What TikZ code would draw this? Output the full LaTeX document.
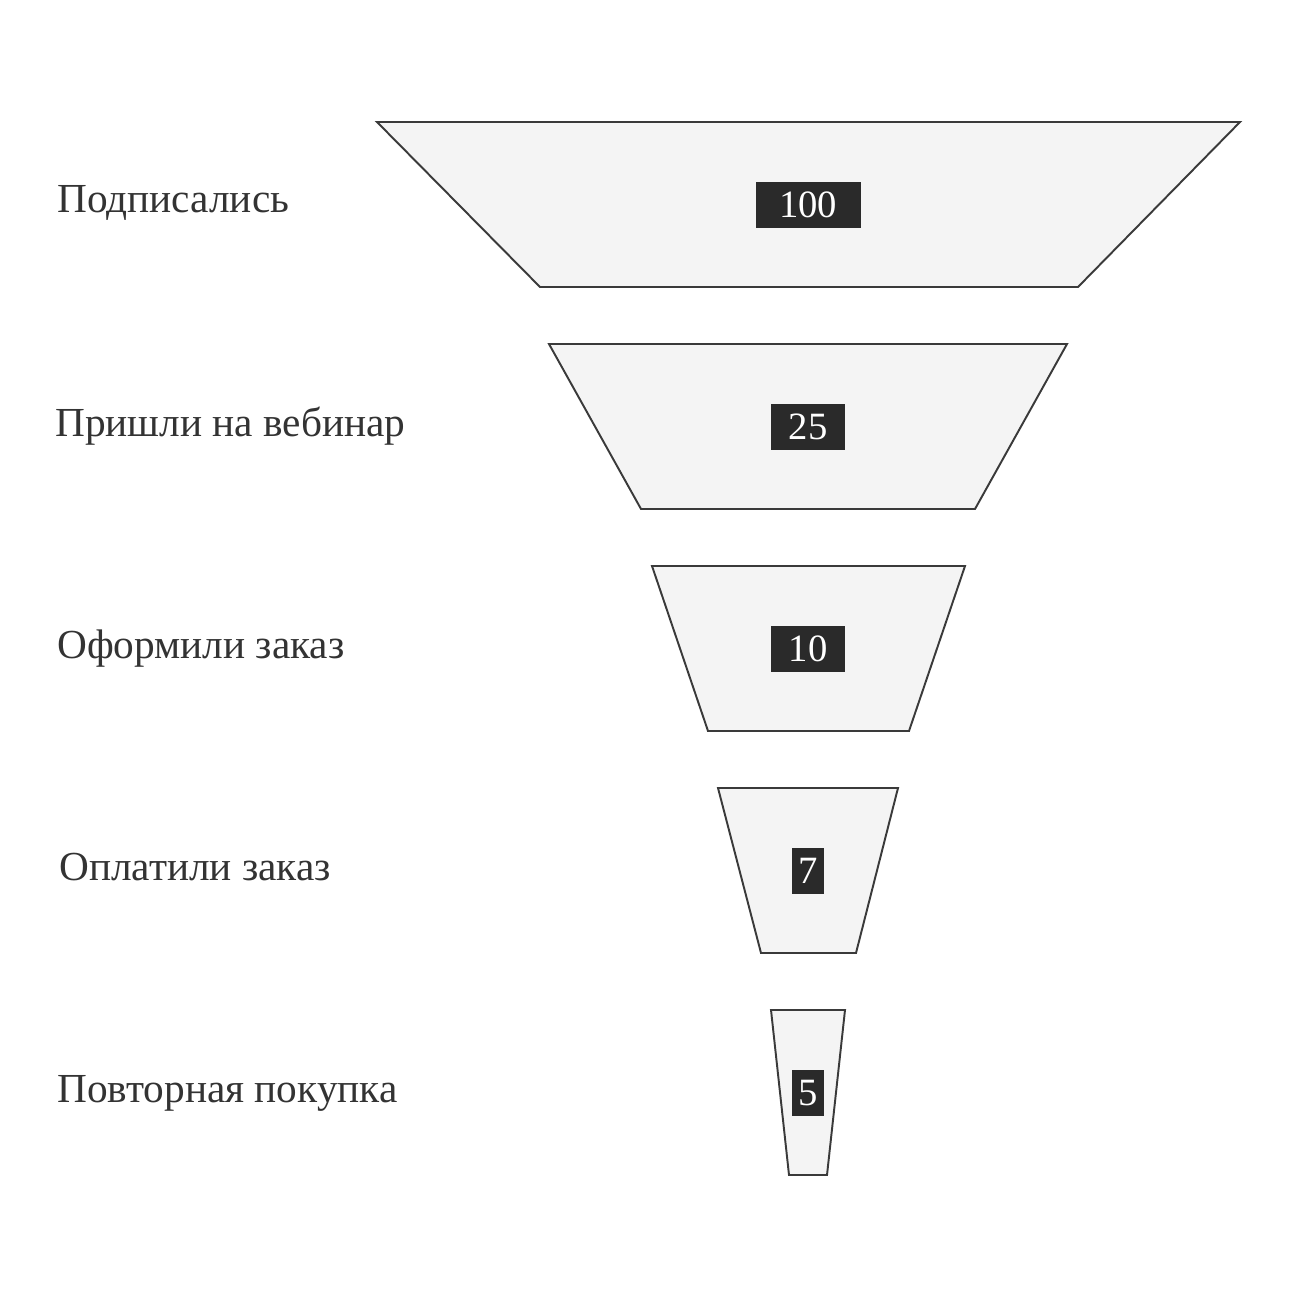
\documentclass[tikz,border=0pt]{standalone}
\usepackage{fontspec}
\setmainfont{Liberation Serif}
\definecolor{funnelline}{HTML}{3A3A3A}
\definecolor{funnelfill}{HTML}{F4F4F4}
\definecolor{countbg}{HTML}{2A2A2A}
\definecolor{labeltext}{HTML}{333333}
\begin{document}
\begin{tikzpicture}[x=0.02cm,y=-0.02cm]
    \tikzstyle{stage} = [draw=funnelline,fill=funnelfill,line width=1.1pt,line join=miter]
    \tikzstyle{count} = [fill=countbg,text=white,minimum height=0.92cm,inner sep=0pt,font=\fontsize{22}{22}\selectfont]
    \tikzstyle{caption} = [anchor=base west,text=labeltext,inner sep=0pt,font=\fontsize{23.5}{23.5}\selectfont]
    \useasboundingbox (0,0) rectangle (1297,1297);
    % funnel stages
    \draw [stage] (377,122) -- (1240,122) -- (1078,287) -- (540,287) -- cycle;
    \draw [stage] (549,344) -- (1067,344) -- (975,509) -- (641,509) -- cycle;
    \draw [stage] (652,566) -- (965,566) -- (909,731) -- (708,731) -- cycle;
    \draw [stage] (718,788) -- (898,788) -- (856,953) -- (761,953) -- cycle;
    \draw [stage] (771,1010) -- (845,1010) -- (827,1175) -- (789,1175) -- cycle;
    % counts
    \node (subscribed)[count,minimum width=2.1cm] at (808,205) {100};
    \node (webinar)[count,minimum width=1.48cm] at (808,427) {25};
    \node (ordered)[count,minimum width=1.48cm] at (808,649) {10};
    \node (paid)[count,minimum width=0.64cm] at (808,871) {7};
    \node (repeat)[count,minimum width=0.64cm] at (808,1093) {5};
    % stage names
    \node (subscribedlabel)[caption] at (57,213) {Подписались};
    \node (webinarlabel)[caption] at (55,436) {Пришли на вебинар};
    \node (orderedlabel)[caption] at (57,658) {Оформили заказ};
    \node (paidlabel)[caption] at (59,880) {Оплатили заказ};
    \node (repeatlabel)[caption] at (57,1102) {Повторная покупка};
\end{tikzpicture}
\end{document}
